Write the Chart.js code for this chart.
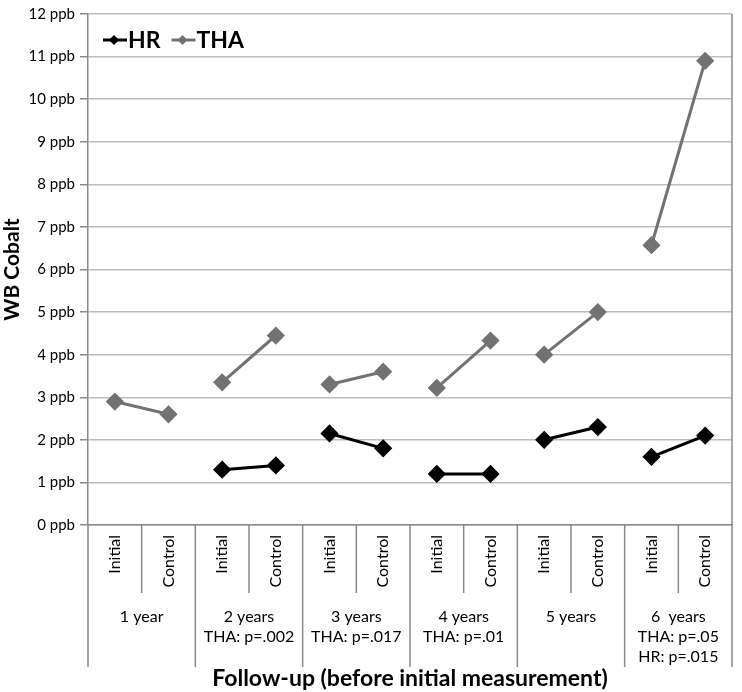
<!DOCTYPE html>
<html>
<head>
<meta charset="utf-8">
<script src="https://cdn.jsdelivr.net/npm/chart.js@4"></script>
<style>
  html, body { margin: 0; padding: 0; background: #fff; }
</style>
</head>
<body>
<canvas id="grafico" width="742" height="692"></canvas>
<script>
const categorias = ['Initial', 'Control', 'Initial', 'Control', 'Initial', 'Control',
                    'Initial', 'Control', 'Initial', 'Control', 'Initial', 'Control'];
const grupos = [
  ['1 year'],
  ['2 years', 'THA: p=.002'],
  ['3 years', 'THA: p=.017'],
  ['4 years', 'THA: p=.01'],
  ['5 years'],
  ['6  years', 'THA: p=.05', 'HR: p=.015']
];
const valoresHR  = [null, null, 1.3, 1.4, 2.15, 1.8, 1.2, 1.2, 2.0, 2.3, 1.6, 2.1];
const valoresTHA = [2.9, 2.6, 3.35, 4.45, 3.3, 3.6, 3.22, 4.33, 4.0, 5.0, 6.57, 10.9];
const ticksY = [0, 1, 2, 3, 4, 5, 6, 7, 8, 9, 10, 11, 12];

const FUENTE = 'Lato, "Open Sans", sans-serif';
const colorHR = '#000000';
const colorTHA = '#727272';

// solo se unen los pares Initial-Control de cada grupo
const segmento = color => ({
  borderColor: c => (c.p0DataIndex % 2 === 1 ? 'rgba(0,0,0,0)' : color)
});

const ejeGrupos = {
  id: 'ejeGrupos',
  afterDraw(chart) {
    const { ctx, chartArea: a, scales: { x } } = chart;
    const linea = (x1, y1, x2, y2) => {
      ctx.beginPath(); ctx.moveTo(x1, y1); ctx.lineTo(x2, y2); ctx.stroke();
    };
    ctx.save();
    ctx.strokeStyle = '#8a8a8a';
    ctx.lineWidth = 1.5;
    linea(a.right, a.top, a.right, a.bottom);

    // separadores debajo del eje
    const n = categorias.length;
    for (let i = 0; i <= n; i++) {
      let px;
      if (i === 0) px = a.left;
      else if (i === n) px = a.right;
      else px = (x.getPixelForValue(i - 1) + x.getPixelForValue(i)) / 2;
      linea(px, a.bottom, px, a.bottom + (i % 2 === 0 ? 142 : 68));
    }

    // etiquetas de grupo
    ctx.fillStyle = '#000';
    ctx.font = '16px ' + FUENTE;
    ctx.textAlign = 'center';
    ctx.textBaseline = 'middle';
    grupos.forEach((g, k) => {
      const cx = (x.getPixelForValue(2 * k) + x.getPixelForValue(2 * k + 1)) / 2;
      g.forEach((t, j) => ctx.fillText(t, cx, a.bottom + 92 + j * 20));
    });

    // leyenda dentro del area
    let lx = a.left + 15;
    const ly = a.top + 26;
    chart.data.datasets.forEach(ds => {
      ctx.strokeStyle = ds.borderColor;
      ctx.lineWidth = 3;
      linea(lx, ly, lx + 24, ly);
      ctx.fillStyle = ds.pointBackgroundColor;
      ctx.beginPath();
      ctx.moveTo(lx + 11, ly - 5); ctx.lineTo(lx + 16, ly);
      ctx.lineTo(lx + 11, ly + 5); ctx.lineTo(lx + 6, ly);
      ctx.closePath(); ctx.fill();
      ctx.fillStyle = '#000';
      ctx.font = 'bold 23px ' + FUENTE;
      ctx.textAlign = 'left';
      ctx.fillText(ds.label, lx + 25, ly + 1);
      lx += 25 + ctx.measureText(ds.label).width + 11;
    });
    ctx.restore();
  }
};

new Chart(document.getElementById('grafico'), {
  type: 'line',
  data: {
    labels: categorias,
    datasets: [
      {
        label: 'HR',
        data: valoresHR,
        borderColor: colorHR,
        pointBackgroundColor: colorHR,
        pointBorderColor: colorHR,
        borderWidth: 3,
        pointStyle: 'rectRot',
        pointRadius: 7,
        segment: segmento(colorHR)
      },
      {
        label: 'THA',
        data: valoresTHA,
        borderColor: colorTHA,
        pointBackgroundColor: colorTHA,
        pointBorderColor: colorTHA,
        borderWidth: 3,
        pointStyle: 'rectRot',
        pointRadius: 7,
        segment: segmento(colorTHA)
      }
    ]
  },
  options: {
    responsive: false,
    animation: false,
    layout: { padding: { top: 6, right: 2, left: 0, bottom: 0 } },
    plugins: { legend: { display: false }, tooltip: { enabled: false } },
    scales: {
      x: {
        offset: true,
        grid: { display: false, drawTicks: false },
        border: { display: true, color: '#8a8a8a', width: 1.5 },
        ticks: {
          autoSkip: false,
          minRotation: 90,
          maxRotation: 90,
          padding: 10,
          color: '#000',
          font: { family: FUENTE, size: 16 }
        },
        title: {
          display: true,
          text: 'Follow-up (before initial measurement)',
          color: '#000',
          font: { family: FUENTE, size: 23, weight: 'bold' },
          padding: { top: 0, bottom: 0 }
        },
        afterFit: s => { s.height = 167; }
      },
      y: {
        min: 0,
        max: 12,
        afterBuildTicks: s => { s.ticks = ticksY.map(v => ({ value: v })); },
        grid: { color: '#bdbdbd', lineWidth: 1.5, tickLength: 8, tickColor: '#8a8a8a' },
        border: { color: '#8a8a8a', width: 1.5 },
        ticks: {
          padding: 5,
          color: '#000',
          font: { family: FUENTE, size: 15 },
          callback: v => v + ' ppb'
        },
        title: {
          display: true,
          text: 'WB Cobalt',
          color: '#000',
          font: { family: FUENTE, size: 21, weight: 'bold' },
          padding: { top: 0, bottom: 0 }
        },
        afterFit: s => { s.width = 88; }
      }
    }
  },
  plugins: [ejeGrupos]
});
</script>
</body>
</html>
